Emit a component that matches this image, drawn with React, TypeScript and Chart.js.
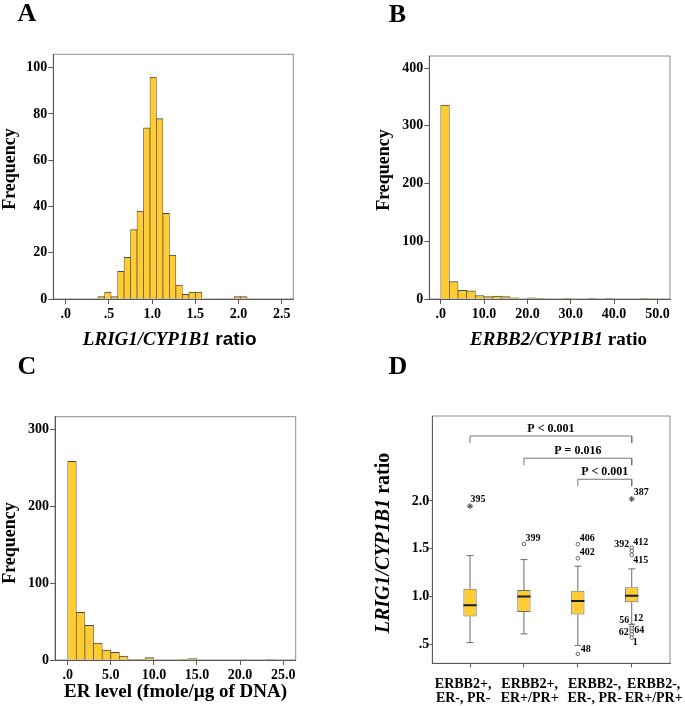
import React, { useEffect, useRef } from 'react';
import { Chart, registerables } from 'chart.js';

Chart.register(...registerables);

// ---------- Panel A : LRIG1/CYP1B1 ratio histogram ----------
const binStartA = 0.375;
const binWidthA = 0.075;
const countsA = [1, 3, 1, 12, 18, 30, 38, 74, 96, 78, 37, 19, 6, 2, 3, 3, 0, 0, 0, 0, 0, 1, 1];
const xTicksA = [0, 0.5, 1, 1.5, 2, 2.5];
const yTicksA = [0, 20, 40, 60, 80, 100];

// ---------- Panel B : ERBB2/CYP1B1 ratio histogram ----------
const binStartB = 0;
const binWidthB = 2;
const countsB = [336, 30, 15, 14, 6, 4, 5, 4, 2, 0, 2, 1, 0, 0, 1, 0, 0, 1, 0, 1, 0, 0, 0, 1];
const xTicksB = [0, 10, 20, 30, 40, 50];
const yTicksB = [0, 100, 200, 300, 400];

// ---------- Panel C : ER level histogram ----------
const binStartC = 0;
const binWidthC = 1;
const countsC = [258, 62, 45, 22, 13, 10, 5, 1, 1, 3, 0, 0, 0, 1, 2, 0, 0, 0, 0, 0, 0, 0, 0, 1];
const xTicksC = [0, 5, 10, 15, 20, 25];
const yTicksC = [0, 100, 200, 300];

// ---------- Panel D : box plots ----------
const groupLine1 = ['ERBB2+,', 'ERBB2+,', 'ERBB2-,', 'ERBB2-,'];
const groupLine2 = ['ER-, PR-', 'ER+/PR+', 'ER-, PR-', 'ER+/PR+'];
const whiskerLow = [0.518, 0.609, 0.486, 0.71];
const q1 = [0.79, 0.839, 0.811, 0.94];
const median = [0.909, 1.0, 0.954, 1.009];
const q3 = [1.081, 1.069, 1.059, 1.097];
const whiskerHigh = [1.428, 1.386, 1.317, 1.289];
const outlierGroup = [1, 2, 3, 3, 3, 4, 4, 4, 4, 4, 4, 4, 4, 4];
const outlierValue = [1.945, 1.55, 1.547, 1.4, 0.4, 2.02, 1.511, 1.477, 1.435, 0.69, 0.665, 0.635, 0.605, 0.57];
const outlierCase = ['395', '399', '406', '402', '48', '387', '392', '412', '415', '56', '12', '64', '62', '1'];
const outlierExtreme = [true, false, false, false, false, true, false, false, false, false, false, false, false, false];
const yTicksD = [0.5, 1, 1.5, 2];
const bracketFrom = [1, 2, 3];
const bracketTo = [4, 4, 4];
const bracketY = [2.68, 2.447, 2.227];
const bracketText = ['P < 0.001', 'P = 0.016', 'P < 0.001'];

// ---------- styles ----------
const SERIF = "'Liberation Serif', 'Times New Roman', serif";
const SANS = "'Liberation Sans', Arial, sans-serif";
const BAR_FILL = '#FFCD33';
const BAR_EDGE = '#4a4a4a';
const AXIS = '#5a5a5a';
const FRAME = '#8c8c8c';
const labelDx = [0.5, 1.5, 2, 2, 3, 2, -2.5, 1.5, 1.5, -2.5, 1.5, 2.5, -3, 1];
const labelDy = [-7, -6, -6.3, -6, -4, -7, -3, -9, 5, -6, -10, -0.7, -1.4, 5.3];
const labelAlign: CanvasTextAlign[] = ['left', 'left', 'left', 'left', 'left', 'left', 'right', 'left', 'left', 'right', 'left', 'left', 'right', 'left'];
const catLabelShift = [-6.9, 5.7, 16.8, 22];

const W = 685;
const H = 706;

function fmtDec(v: number) {
  const s = Number(v).toFixed(1);
  return s.startsWith('0.') ? s.slice(1) : s;
}

const framePlugin = {
  id: 'frame',
  beforeDraw(chart: any) {
    const { ctx, chartArea } = chart;
    const { left, top, right, bottom } = chartArea;
    ctx.save();
    ctx.strokeStyle = FRAME;
    ctx.lineWidth = 1;
    ctx.strokeRect(left, top, right - left, bottom - top);
    ctx.restore();
  },
};

function axisCommon(tickLen: number) {
  return {
    offset: false,
    grid: { display: true, drawOnChartArea: false, drawTicks: true, tickLength: tickLen, color: AXIS, offset: false },
    border: { display: true, color: AXIS, width: 1 },
  };
}

function histConfig(
  counts: number[], start: number, width: number,
  xMin: number, xMax: number, xTicks: number[],
  yMax: number, yTicks: number[],
  padding: { left: number; right: number; top: number; bottom: number }
): any {
  const data = counts.map((c, i) => ({ x: start + width * (i + 0.5), y: c > 0 ? c : null }));
  return {
    type: 'bar',
    data: {
      datasets: [
        {
          data,
          backgroundColor: BAR_FILL,
          borderColor: BAR_EDGE,
          borderWidth: { top: 1, left: 0.7, right: 0.7, bottom: 0 },
          categoryPercentage: 1,
          barPercentage: 1,
        },
      ],
    },
    options: {
      responsive: false,
      animation: false,
      events: [],
      layout: { padding },
      plugins: { legend: { display: false }, tooltip: { enabled: false } },
      scales: {
        x: {
          type: 'linear',
          min: xMin,
          max: xMax,
          ...axisCommon(5),
          afterBuildTicks: (s: any) => { s.ticks = xTicks.map((v) => ({ value: v })); },
          afterFit: (s: any) => { s.height = 40; },
          ticks: {
            color: '#000', padding: 2, maxRotation: 0, autoSkip: false,
            font: { family: SERIF, size: 14, weight: 'bold' },
            callback: (v: number) => fmtDec(v),
          },
        },
        y: {
          type: 'linear',
          min: 0,
          max: yMax,
          ...axisCommon(5),
          afterBuildTicks: (s: any) => { s.ticks = yTicks.map((v) => ({ value: v })); },
          afterFit: (s: any) => { s.width = 40; },
          ticks: {
            color: '#000', padding: 1,
            font: { family: SERIF, size: 14, weight: 'bold' },
            callback: (v: number) => String(v),
          },
        },
      },
    },
    plugins: [framePlugin],
  };
}

const boxTextPlugin = {
  id: 'boxText',
  afterDatasetsDraw(chart: any) {
    const { ctx, chartArea } = chart;
    const x = chart.scales.x;
    const y = chart.scales.y;
    ctx.save();
    ctx.fillStyle = '#000';
    ctx.font = `bold 10px ${SERIF}`;
    ctx.textBaseline = 'middle';
    outlierValue.forEach((v, i) => {
      ctx.textAlign = labelAlign[i];
      ctx.fillText(outlierCase[i], x.getPixelForValue(outlierGroup[i]) + labelDx[i], y.getPixelForValue(v) + labelDy[i]);
    });
    ctx.font = `bold 12px ${SERIF}`;
    ctx.textAlign = 'center';
    bracketText.forEach((t, i) => {
      const cx = (x.getPixelForValue(bracketFrom[i]) + x.getPixelForValue(bracketTo[i])) / 2;
      ctx.fillText(t, cx, y.getPixelForValue(bracketY[i]) - 7);
    });
    ctx.font = `bold 14px ${SERIF}`;
    ctx.textBaseline = 'alphabetic';
    groupLine1.forEach((t, i) => {
      const cx = x.getPixelForValue(i + 1) + catLabelShift[i];
      ctx.fillText(t, cx, chartArea.bottom + 24.7);
      ctx.fillText(groupLine2[i], cx, chartArea.bottom + 39);
    });
    ctx.restore();
  },
};

function boxConfig(): any {
  const idx = q1.map((_, i) => i + 1);
  const whiskers: any[] = [];
  idx.forEach((g, i) => {
    whiskers.push({ x: g, y: [whiskerLow[i], q1[i]] });
    whiskers.push({ x: g, y: [q3[i], whiskerHigh[i]] });
  });
  const caps: any[] = [];
  idx.forEach((g, i) => {
    caps.push({ x: g, y: whiskerLow[i] });
    caps.push({ x: g, y: whiskerHigh[i] });
  });
  const circles = outlierValue.map((v, i) => (outlierExtreme[i] ? null : { x: outlierGroup[i], y: v })).filter(Boolean);
  const stars = outlierValue.map((v, i) => (outlierExtreme[i] ? { x: outlierGroup[i], y: v } : null)).filter(Boolean);
  const drop = 0.073;
  const brackets = bracketFrom.map((f, i) => ({
    type: 'line',
    data: [
      { x: f, y: bracketY[i] - drop },
      { x: f, y: bracketY[i] },
      { x: bracketTo[i], y: bracketY[i] },
      { x: bracketTo[i], y: bracketY[i] - drop },
    ],
    borderColor: '#777',
    borderWidth: 1,
    pointRadius: 0,
    fill: false,
    tension: 0,
    order: 0,
  }));
  return {
    type: 'bar',
    data: {
      datasets: [
        {
          type: 'bar', data: whiskers, backgroundColor: '#6a6a6a', borderWidth: 0,
          grouped: false, categoryPercentage: 1, barPercentage: 1, maxBarThickness: 1, inflateAmount: 0, order: 5,
        },
        {
          type: 'bar', data: idx.map((g, i) => ({ x: g, y: [q1[i], q3[i]] })),
          backgroundColor: BAR_FILL, borderColor: '#6a6a6a', borderWidth: 1, borderSkipped: false,
          grouped: false, categoryPercentage: 1, barPercentage: 1, maxBarThickness: 13.3, inflateAmount: 0, order: 4,
        },
        {
          type: 'scatter', data: caps, pointStyle: 'line', pointRadius: 3.5, borderColor: '#6a6a6a', borderWidth: 1, order: 3,
        },
        {
          type: 'scatter', data: idx.map((g, i) => ({ x: g, y: median[i] })), pointStyle: 'line', pointRadius: 6.6,
          borderColor: '#1a1a1a', borderWidth: 2, order: 2,
        },
        {
          type: 'scatter', data: circles, pointStyle: 'circle', pointRadius: 1.8,
          backgroundColor: 'rgba(255,255,255,0.9)', borderColor: '#555', borderWidth: 0.9, order: 1,
        },
        {
          type: 'scatter', data: stars, pointStyle: 'star', pointRadius: 3,
          borderColor: '#444', borderWidth: 1, order: 1,
        },
        ...brackets,
      ],
    },
    options: {
      responsive: false,
      animation: false,
      events: [],
      layout: { padding: { left: 392.3, right: 15, top: 416, bottom: 2.7 } },
      plugins: { legend: { display: false }, tooltip: { enabled: false } },
      scales: {
        x: {
          type: 'linear',
          min: 0.3,
          max: 4.71,
          ...axisCommon(4),
          afterBuildTicks: (s: any) => { s.ticks = idx.map((v) => ({ value: v })); },
          afterFit: (s: any) => { s.height = 40; },
          ticks: { display: true, autoSkip: false, maxRotation: 0, callback: () => '' },
        },
        y: {
          type: 'linear',
          min: 0.301,
          max: 2.889,
          ...axisCommon(3),
          afterBuildTicks: (s: any) => { s.ticks = yTicksD.map((v) => ({ value: v })); },
          afterFit: (s: any) => { s.width = 40; },
          ticks: {
            color: '#000', padding: 0,
            font: { family: SERIF, size: 14, weight: 'bold' },
            callback: (v: number) => fmtDec(v),
          },
        },
      },
    },
    plugins: [framePlugin, boxTextPlugin],
  };
}

function Txt(props: { x: number; y: number; size: number; rot?: boolean; family?: string; children: any }) {
  const { x, y, size, rot, family, children } = props;
  return (
    <div
      style={{
        position: 'absolute',
        left: x,
        top: y,
        transform: `translate(-50%, -50%)${rot ? ' rotate(-90deg)' : ''}`,
        whiteSpace: 'nowrap',
        fontFamily: family || SERIF,
        fontWeight: 'bold',
        fontSize: size,
        lineHeight: 1,
        color: '#000',
      }}
    >
      {children}
    </div>
  );
}

export default function App() {
  const refA = useRef<HTMLCanvasElement>(null);
  const refB = useRef<HTMLCanvasElement>(null);
  const refC = useRef<HTMLCanvasElement>(null);
  const refD = useRef<HTMLCanvasElement>(null);

  useEffect(() => {
    document.body.style.margin = '0';
    const charts = [
      new Chart(refA.current as HTMLCanvasElement, histConfig(countsA, binStartA, binWidthA, -0.144, 2.634, xTicksA, 105.8, yTicksA,
        { left: 13.3, right: 391.7, top: 54.3, bottom: 367 })),
      new Chart(refB.current as HTMLCanvasElement, histConfig(countsB, binStartB, binWidthB, -2.63, 52.9, xTicksB, 421, yTicksB,
        { left: 389.3, right: 15, top: 56, bottom: 367 })),
      new Chart(refC.current as HTMLCanvasElement, histConfig(countsC, binStartC, binWidthC, -1.47, 26.45, xTicksC, 316, yTicksC,
        { left: 15, right: 389.3, top: 416.7, bottom: 6 })),
      new Chart(refD.current as HTMLCanvasElement, boxConfig()),
    ];
    return () => charts.forEach((c) => c.destroy());
  }, []);

  const cv = { position: 'absolute' as const, left: 0, top: 0 };
  return (
    <div style={{ position: 'relative', width: W, height: H, overflow: 'hidden', background: '#fff' }}>
      <canvas ref={refA} width={W} height={H} style={cv} />
      <canvas ref={refB} width={W} height={H} style={cv} />
      <canvas ref={refC} width={W} height={H} style={cv} />
      <canvas ref={refD} width={W} height={H} style={cv} />

      <Txt x={27} y={13} size={26}>A</Txt>
      <Txt x={397.5} y={14} size={26}>B</Txt>
      <Txt x={27} y={366} size={26}>C</Txt>
      <Txt x={398} y={366} size={26}>D</Txt>

      <Txt x={8.5} y={169} size={18} rot>Frequency</Txt>
      <Txt x={382.5} y={170} size={18} rot>Frequency</Txt>
      <Txt x={8.5} y={542.5} size={18} rot>Frequency</Txt>
      <Txt x={382} y={543} size={20} rot>
        <i>LRIG1/CYP1B1</i> ratio
      </Txt>

      <Txt x={169.7} y={338} size={19}>
        <i>LRIG1/CYP1B1</i> <span style={{ fontFamily: SANS }}>ratio</span>
      </Txt>
      <Txt x={558.5} y={338} size={19}>
        <i>ERBB2/CYP1B1</i> ratio
      </Txt>
      <Txt x={175.5} y={690} size={19}>ER level (fmole/µg of DNA)</Txt>
    </div>
  );
}
